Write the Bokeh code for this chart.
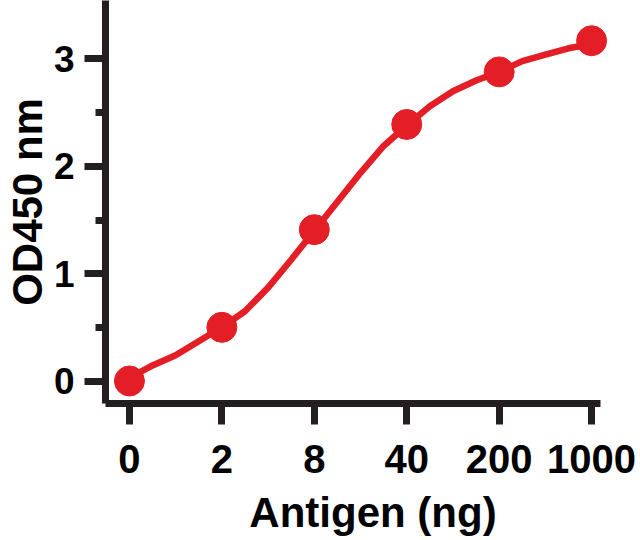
from bokeh.plotting import figure
from bokeh.models import FixedTicker, Range1d
from bokeh.embed import file_html
from bokeh.resources import INLINE

# ---- data ----
categories = ["0", "2", "8", "40", "200", "1000"]          # Antigen (ng)
od450 = [0.0, 0.50, 1.41, 2.39, 2.88, 3.17]                 # measured points
# fitted curve, read off the picture at quarter steps of the category axis
curve_pos = [0, 0.25, 0.5, 0.75, 1, 1.25, 1.5, 1.75, 2, 2.25, 2.5, 2.75, 3,
             3.25, 3.5, 3.75, 4, 4.25, 4.5, 4.75, 5]
curve_val = [0.03, 0.145, 0.24, 0.37, 0.50, 0.65, 0.87, 1.13, 1.40, 1.67, 1.94,
             2.19, 2.38, 2.56, 2.70, 2.80, 2.88, 2.98, 3.04, 3.10, 3.14]
y_ticks = [0, 1, 2, 3]
y_minor = [0.5, 1.5, 2.5]
y_title = "OD450 nm"
x_title = "Antigen (ng)"

RED = "#E41E26"
DARK = "#231F20"
FONT = "Liberation Sans"

xs = list(range(len(categories)))

p = figure(width=640, height=540, output_backend="svg", toolbar_location=None,
           x_range=Range1d(-0.259, 5.529), y_range=Range1d(-0.2096, 3.545),
           min_border_left=104, min_border_right=0, min_border_top=0,
           min_border_bottom=137)
p.outline_line_color = None
p.grid.visible = False
p.background_fill_color = "white"
p.border_fill_color = "white"

p.line(curve_pos, curve_val, line_color=RED, line_width=6.5, line_join="round")
p.scatter(xs, od450, size=30, fill_color=RED, line_color=RED)

# x axis
xa = p.xaxis[0]
xa.ticker = FixedTicker(ticks=xs, minor_ticks=[])
xa.major_label_overrides = {i: c for i, c in enumerate(categories)}
xa.bounds = (-0.27, 5.1)
xa.axis_line_width = 7
xa.axis_line_color = DARK
xa.major_tick_line_width = 7
xa.major_tick_line_color = DARK
xa.major_tick_out = 21
xa.major_tick_in = 0
xa.minor_tick_line_color = None
xa.major_label_text_font = FONT
xa.major_label_text_font_style = "bold"
xa.major_label_text_font_size = "40px"
xa.major_label_text_color = "black"
xa.major_label_standoff = 20
xa.axis_label = x_title
xa.axis_label_text_font = FONT
xa.axis_label_text_font_style = "bold"
xa.axis_label_text_font_size = "42px"
xa.axis_label_text_color = "black"
xa.axis_label_standoff = 13

# y axis
ya = p.yaxis[0]
ya.ticker = FixedTicker(ticks=y_ticks, minor_ticks=y_minor)
ya.axis_line_width = 7
ya.axis_line_color = DARK
ya.major_tick_line_width = 7
ya.major_tick_line_color = DARK
ya.major_tick_out = 21
ya.major_tick_in = 0
ya.minor_tick_line_width = 7
ya.minor_tick_line_color = DARK
ya.minor_tick_out = 10
ya.minor_tick_in = 0
ya.major_label_text_font = FONT
ya.major_label_text_font_style = "bold"
ya.major_label_text_font_size = "37px"
ya.major_label_text_color = "black"
ya.major_label_standoff = 10
ya.axis_label = y_title
ya.axis_label_text_font = FONT
ya.axis_label_text_font_style = "bold"
ya.axis_label_text_font_size = "42px"
ya.axis_label_text_color = "black"
ya.axis_label_standoff = 0

open("out.html", "w").write(file_html(p, INLINE))
